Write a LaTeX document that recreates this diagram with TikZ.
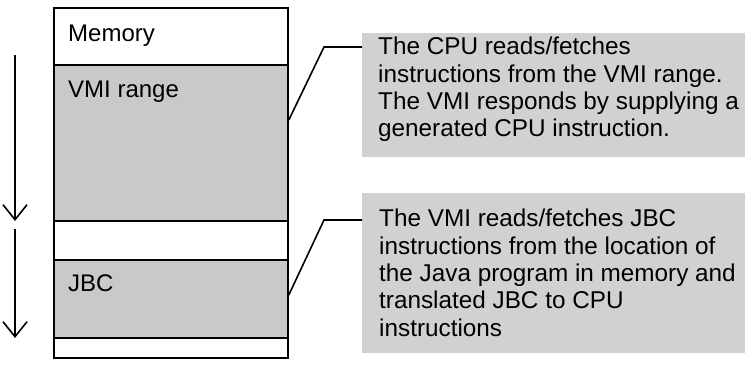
\documentclass[tikz,border=0pt]{standalone}
\usepackage{fontspec}
\setmainfont{Liberation Sans}
\usetikzlibrary{arrows.meta}
\definecolor{shade}{gray}{0.79}
\definecolor{noteshade}{gray}{0.82}
\begin{document}
\begin{tikzpicture}[x=1pt,y=-1pt,
  seg/.style={draw,line width=1.8pt,minimum width=234pt,inner sep=0pt,anchor=north west},
  filled/.style={fill=shade},
  note/.style={fill=noteshade,draw=none,inner sep=0pt,anchor=north west},
  notetext/.style={anchor=base west,inner sep=0pt,font=\fontsize{24.3}{27.3}\selectfont},
  lbl/.style={anchor=base west,inner sep=0pt,font=\fontsize{24}{27.3}\selectfont},
  lead/.style={line width=1.6pt},
  flow/.style={line width=1.6pt,-{Straight Barb[length=15pt,width=24pt,line width=1.6pt]}}]
\useasboundingbox (0,0) rectangle (745,379);

% memory column, top to bottom
\node[seg,minimum height=57pt] (mem) at (53,7) {};
\node[seg,filled,minimum height=156pt] (vmi) at (53,64) {};
\node[seg,minimum height=39pt] (gapA) at (53,220) {};
\node[seg,filled,minimum height=78pt] (jbc) at (53,259) {};
\node[seg,minimum height=20pt] (gapB) at (53,337) {};

\node[lbl] (memlbl) at (68,42) {Memory};
\node[lbl] (vmilbl) at (68,98) {VMI range};
\node[lbl] (jbclbl) at (68,292) {JBC};

% direction of execution
\coordinate (a1s) at (15,55);
\coordinate (a1e) at (15,221);
\coordinate (a2s) at (15,229);
\coordinate (a2e) at (15,338);
\draw[flow] (a1s) -- (a1e);
\draw[flow] (a2s) -- (a2e);

% explanatory notes
\node[note,minimum width=383pt,minimum height=124pt] (note1) at (362,33) {};
\node[note,minimum width=383pt,minimum height=160pt] (note2) at (362,193) {};

\node[notetext] (t1) at (378,55) {\parbox[t]{365pt}{\raggedright
  The CPU reads/fetches\\
  instructions from the VMI range.\\
  The VMI responds by supplying a\\
  generated CPU instruction.}};
\node[notetext] (t2) at (379,227) {\parbox[t]{365pt}{\raggedright
  The VMI reads/fetches JBC\\
  instructions from the location of\\
  the Java program in memory and\\
  translated JBC to CPU\\
  instructions}};

% leader lines from the memory ranges to their notes
\coordinate (v1) at (vmi.north east |- 0,120);
\coordinate (k1) at (324,47);
\coordinate (n1) at (note1.north west |- 0,47);
\coordinate (v2) at (jbc.north east |- 0,295);
\coordinate (k2) at (324,220);
\coordinate (n2) at (note2.north west |- 0,220);
\draw[lead] (v1) -- (k1) -- (n1);
\draw[lead] (v2) -- (k2) -- (n2);
\end{tikzpicture}
\end{document}
